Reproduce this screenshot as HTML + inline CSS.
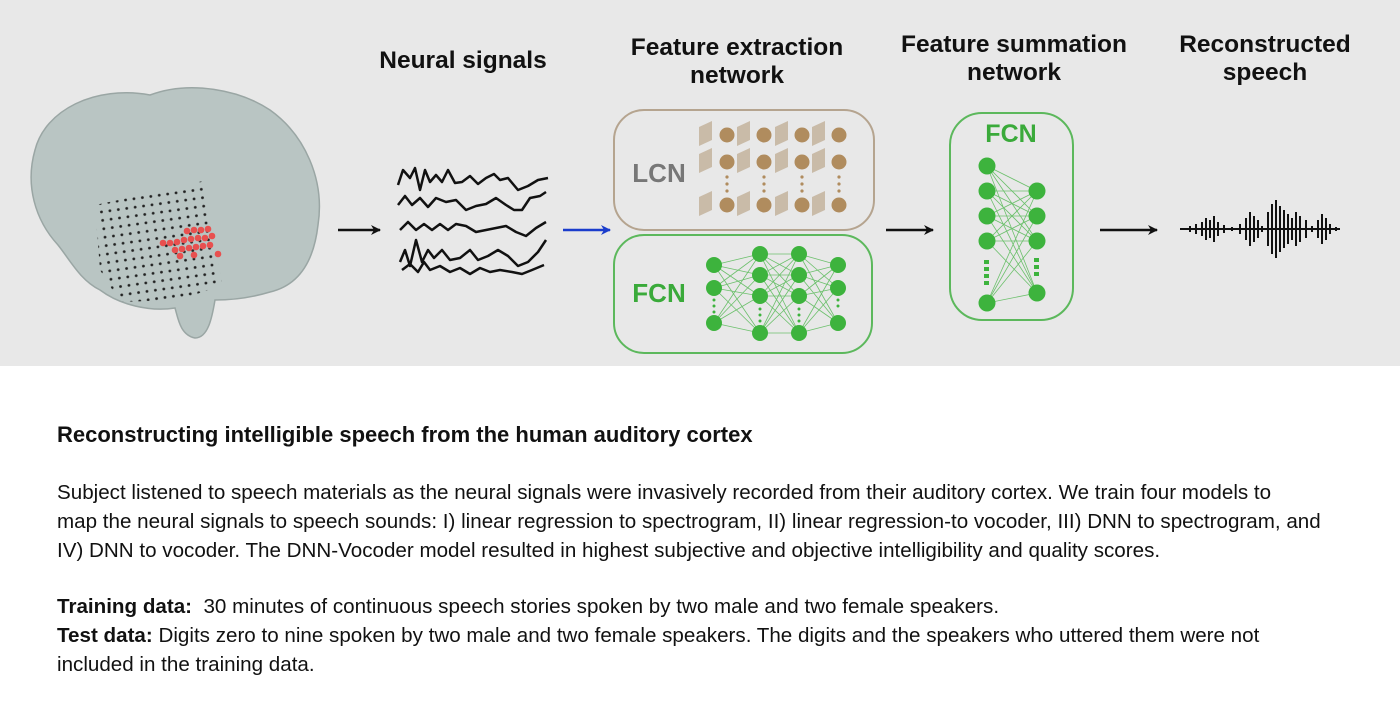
<!DOCTYPE html>
<html><head><meta charset="utf-8"><style>
body{margin:0;width:1400px;height:709px;background:#fff;font-family:"Liberation Sans",sans-serif;overflow:hidden;position:relative}
.top{position:absolute;left:0;top:0;width:1400px;height:366px;background:#e8e8e8}
.t{position:absolute;left:57px;color:#111;font-size:20.6px;line-height:29px;white-space:nowrap}
</style></head><body>
<div class="top">
<svg width="1400" height="366" xmlns="http://www.w3.org/2000/svg">
<defs>
<marker id="ah" markerWidth="10" markerHeight="10" refX="9" refY="5" orient="auto" markerUnits="userSpaceOnUse"><path d="M0,0 L10,5 L0,10 L3,5z" fill="#111"/></marker>
<marker id="ab" markerWidth="10" markerHeight="10" refX="9" refY="5" orient="auto" markerUnits="userSpaceOnUse"><path d="M0,0 L10,5 L0,10 L3,5z" fill="#1a3ccc"/></marker>
<pattern id="dots" width="8.5" height="8.5" patternUnits="userSpaceOnUse" patternTransform="rotate(-8)"><circle cx="3" cy="3" r="1.4" fill="#222"/></pattern>
</defs>
<g font-weight="bold" font-size="24.5" fill="#111" text-anchor="middle">
<text x="463" y="68">Neural signals</text>
<text x="737" y="55">Feature extraction</text><text x="737" y="83">network</text>
<text x="1014" y="52">Feature summation</text><text x="1014" y="80">network</text>
<text x="1265" y="52">Reconstructed</text><text x="1265" y="80">speech</text>
</g>
<!-- brain -->
<path d="M35,150 C45,110 95,85 150,95 C190,80 240,90 270,110 C305,135 325,180 318,225 C314,260 300,285 270,292 C250,298 230,300 215,300 C212,318 208,338 195,338 C180,335 178,318 175,308 C150,312 120,305 100,290 C80,280 70,260 58,245 C35,220 25,185 35,150z" fill="#b9c5c3" stroke="#9aa6a4" stroke-width="1.5"/>
<path d="M95,205 L190,185 L205,180 L222,285 L180,300 L120,302 L100,270z" fill="url(#dots)"/>
<g fill="#e8504f">
<circle cx="163" cy="243" r="3.3"/><circle cx="170" cy="243" r="3.3"/><circle cx="177" cy="242" r="3.3"/><circle cx="184" cy="240" r="3.3"/><circle cx="191" cy="239" r="3.3"/><circle cx="198" cy="238" r="3.3"/><circle cx="205" cy="238" r="3.3"/><circle cx="212" cy="236" r="3.3"/>
<circle cx="175" cy="250" r="3.3"/><circle cx="182" cy="249" r="3.3"/><circle cx="189" cy="248" r="3.3"/><circle cx="196" cy="247" r="3.3"/><circle cx="203" cy="246" r="3.3"/><circle cx="210" cy="245" r="3.3"/>
<circle cx="187" cy="231" r="3.3"/><circle cx="194" cy="230" r="3.3"/><circle cx="201" cy="230" r="3.3"/><circle cx="208" cy="229" r="3.3"/>
<circle cx="180" cy="256" r="3.3"/><circle cx="194" cy="255" r="3.3"/><circle cx="218" cy="254" r="3.3"/>
</g>
<!-- signals -->
<g fill="none" stroke="#111" stroke-width="2.5" stroke-linejoin="round">
<path d="M398,185 L403,170 L410,178 L415,168 L420,190 L425,170 L430,182 L436,175 L442,182 L448,170 L455,183 L462,182 L470,176 L478,184 L486,178 L494,174 L500,180 L508,178 L518,190 L528,186 L538,180 L548,178"/>
<path d="M398,205 L405,196 L412,205 L420,198 L428,207 L436,198 L446,202 L456,200 L466,210 L476,206 L486,204 L496,198 L506,205 L514,210 L522,210 L530,198 L540,196 L546,192"/>
<path d="M400,230 L408,222 L416,230 L424,224 L432,230 L440,224 L448,230 L456,224 L466,226 L476,232 L486,230 L496,228 L506,226 L516,232 L526,236 L536,228 L546,222"/>
<path d="M400,262 L405,250 L410,266 L416,240 L422,262 L428,250 L434,258 L442,250 L450,260 L460,258 L470,250 L478,260 L488,256 L498,250 L508,256 L518,266 L528,262 L538,252 L546,240"/>
<path d="M402,270 L410,264 L418,272 L424,262 L430,270 L440,266 L450,272 L460,268 L470,274 L480,268 L490,272 L500,270 L512,272 L522,274 L532,270 L544,265"/>
</g>
<line x1="338" y1="230" x2="380" y2="230" stroke="#111" stroke-width="2.5" marker-end="url(#ah)"/>
<line x1="563" y1="230" x2="610" y2="230" stroke="#1a3ccc" stroke-width="2.5" marker-end="url(#ab)"/>
<line x1="886" y1="230" x2="933" y2="230" stroke="#111" stroke-width="2.5" marker-end="url(#ah)"/>
<line x1="1100" y1="230" x2="1157" y2="230" stroke="#111" stroke-width="2.5" marker-end="url(#ah)"/>
<!-- LCN -->
<rect x="614" y="110" width="260" height="120" rx="30" fill="none" stroke="#b5a48f" stroke-width="2"/>
<text x="659" y="182" font-size="26" font-weight="bold" fill="#777" text-anchor="middle">LCN</text>
<g fill="#c9bba8">
<path d="M699,127 L712,121 L712,140 L699,146z"/><path d="M737,127 L750,121 L750,140 L737,146z"/><path d="M775,127 L788,121 L788,140 L775,146z"/><path d="M812,127 L825,121 L825,140 L812,146z"/>
<path d="M699,154 L712,148 L712,167 L699,173z"/><path d="M737,154 L750,148 L750,167 L737,173z"/><path d="M775,154 L788,148 L788,167 L775,173z"/><path d="M812,154 L825,148 L825,167 L812,173z"/>
<path d="M699,197 L712,191 L712,210 L699,216z"/><path d="M737,197 L750,191 L750,210 L737,216z"/><path d="M775,197 L788,191 L788,210 L775,216z"/><path d="M812,197 L825,191 L825,210 L812,216z"/>
</g>
<g fill="#b08c5e">
<circle cx="727" cy="135" r="7.5"/><circle cx="764" cy="135" r="7.5"/><circle cx="802" cy="135" r="7.5"/><circle cx="839" cy="135" r="7.5"/>
<circle cx="727" cy="162" r="7.5"/><circle cx="764" cy="162" r="7.5"/><circle cx="802" cy="162" r="7.5"/><circle cx="839" cy="162" r="7.5"/>
<circle cx="727" cy="205" r="7.5"/><circle cx="764" cy="205" r="7.5"/><circle cx="802" cy="205" r="7.5"/><circle cx="839" cy="205" r="7.5"/>
<circle cx="727" cy="177" r="1.6"/><circle cx="727" cy="184" r="1.6"/><circle cx="727" cy="191" r="1.6"/>
<circle cx="764" cy="177" r="1.6"/><circle cx="764" cy="184" r="1.6"/><circle cx="764" cy="191" r="1.6"/>
<circle cx="802" cy="177" r="1.6"/><circle cx="802" cy="184" r="1.6"/><circle cx="802" cy="191" r="1.6"/>
<circle cx="839" cy="177" r="1.6"/><circle cx="839" cy="184" r="1.6"/><circle cx="839" cy="191" r="1.6"/>
</g>
<!-- FCN -->
<rect x="614" y="235" width="258" height="118" rx="30" fill="none" stroke="#5cb85c" stroke-width="2"/>
<text x="659" y="302" font-size="26" font-weight="bold" fill="#3aaa3a" text-anchor="middle">FCN</text>
<g stroke="#6cc06c" stroke-width="0.8">
<path d="M714,265L760,254M714,265L760,275M714,265L760,296M714,265L760,333M714,288L760,254M714,288L760,275M714,288L760,296M714,288L760,333M714,323L760,254M714,323L760,275M714,323L760,296M714,323L760,333"/>
<path d="M760,254L799,254M760,254L799,275M760,254L799,296M760,254L799,333M760,275L799,254M760,275L799,275M760,275L799,296M760,275L799,333M760,296L799,254M760,296L799,275M760,296L799,296M760,296L799,333M760,333L799,254M760,333L799,275M760,333L799,296M760,333L799,333"/>
<path d="M799,254L838,265M799,254L838,288M799,254L838,323M799,275L838,265M799,275L838,288M799,275L838,323M799,296L838,265M799,296L838,288M799,296L838,323M799,333L838,265M799,333L838,288M799,333L838,323"/>
</g>
<g fill="#3db33d">
<circle cx="714" cy="265" r="8"/><circle cx="714" cy="288" r="8"/><circle cx="714" cy="323" r="8"/>
<circle cx="760" cy="254" r="8"/><circle cx="760" cy="275" r="8"/><circle cx="760" cy="296" r="8"/><circle cx="760" cy="333" r="8"/>
<circle cx="799" cy="254" r="8"/><circle cx="799" cy="275" r="8"/><circle cx="799" cy="296" r="8"/><circle cx="799" cy="333" r="8"/>
<circle cx="838" cy="265" r="8"/><circle cx="838" cy="288" r="8"/><circle cx="838" cy="323" r="8"/>
<circle cx="714" cy="300" r="1.5"/><circle cx="714" cy="306" r="1.5"/><circle cx="714" cy="312" r="1.5"/>
<circle cx="760" cy="309" r="1.5"/><circle cx="760" cy="315" r="1.5"/><circle cx="760" cy="321" r="1.5"/>
<circle cx="799" cy="309" r="1.5"/><circle cx="799" cy="315" r="1.5"/><circle cx="799" cy="321" r="1.5"/>
<circle cx="838" cy="300" r="1.5"/><circle cx="838" cy="306" r="1.5"/>
</g>
<!-- summation -->
<rect x="950" y="113" width="123" height="207" rx="32" fill="none" stroke="#5cb85c" stroke-width="2"/>
<text x="1011" y="142" font-size="25" font-weight="bold" fill="#3aaa3a" text-anchor="middle">FCN</text>
<g stroke="#6cc06c" stroke-width="0.8">
<path d="M987,166L1037,191M987,166L1037,216M987,166L1037,241M987,166L1037,293M987,191L1037,191M987,191L1037,216M987,191L1037,241M987,191L1037,293M987,216L1037,191M987,216L1037,216M987,216L1037,241M987,216L1037,293M987,241L1037,191M987,241L1037,216M987,241L1037,241M987,241L1037,293M987,303L1037,191M987,303L1037,216M987,303L1037,241M987,303L1037,293"/>
</g>
<g fill="#3db33d">
<circle cx="987" cy="166" r="8.5"/><circle cx="987" cy="191" r="8.5"/><circle cx="987" cy="216" r="8.5"/><circle cx="987" cy="241" r="8.5"/><circle cx="987" cy="303" r="8.5"/>
<circle cx="1037" cy="191" r="8.5"/><circle cx="1037" cy="216" r="8.5"/><circle cx="1037" cy="241" r="8.5"/><circle cx="1037" cy="293" r="8.5"/>
<rect x="984" y="260" width="5" height="4"/><rect x="984" y="267" width="5" height="4"/><rect x="984" y="274" width="5" height="4"/><rect x="984" y="281" width="5" height="4"/>
<rect x="1034" y="258" width="5" height="4"/><rect x="1034" y="265" width="5" height="4"/><rect x="1034" y="272" width="5" height="4"/>
</g>
<!-- speech waveform -->
<path d="M1180,229 L1340,229 M1190,226v6M1196,224v10M1202,222v14M1206,218v22M1210,220v18M1214,216v26M1218,222v14M1224,225v8M1232,227v4M1240,224v10M1246,218v22M1250,212v34M1254,216v26M1258,220v18M1262,226v6M1268,212v34M1272,204v50M1276,200v58M1280,206v46M1284,210v38M1288,214v30M1292,218v22M1296,212v34M1300,216v26M1306,220v18M1312,226v6M1318,220v18M1322,214v30M1326,218v22M1330,224v10M1336,227v4" stroke="#111" stroke-width="2"/>
</svg>
</div>
<div class="t" style="top:420px;font-size:22px;font-weight:bold">Reconstructing intelligible speech from the human auditory cortex</div>
<div class="t" style="top:478px">Subject listened to speech materials as the neural signals were invasively recorded from their auditory cortex. We train four models to<br>map the neural signals to speech sounds: I) linear regression to spectrogram, II) linear regression-to vocoder, III) DNN to spectrogram, and<br>IV) DNN to vocoder. The DNN-Vocoder model resulted in highest subjective and objective intelligibility and quality scores.</div>
<div class="t" style="top:592px"><b>Training data:</b>&nbsp; 30 minutes of continuous speech stories spoken by two male and two female speakers.<br><b>Test data:</b> Digits zero to nine spoken by two male and two female speakers. The digits and the speakers who uttered them were not<br>included in the training data.</div>
</body></html>
